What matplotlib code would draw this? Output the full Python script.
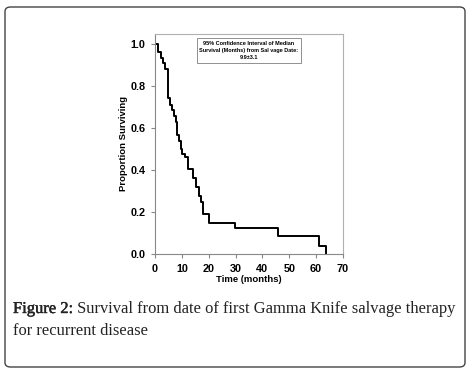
import matplotlib
matplotlib.use("Agg")
import matplotlib.pyplot as plt
import matplotlib.patheffects as pe
from matplotlib.patches import FancyBboxPatch

# Kaplan-Meier step data (months, proportion surviving)
times = [0, 1.3, 2.2, 2.9, 3.7, 4.8, 5.7, 6.3, 7.2, 7.9, 8.3, 9.0, 9.5, 10.0,
         11.1, 12.3, 14.2, 15.2, 16.2, 17.3, 18.0, 20.0, 29.8, 45.8, 61.1, 63.7]
survival = [1.0, 0.963, 0.935, 0.91, 0.88, 0.743, 0.71, 0.685, 0.655, 0.63,
            0.568, 0.54, 0.50, 0.478, 0.462, 0.405, 0.36, 0.32, 0.275, 0.25,
            0.19, 0.148, 0.124, 0.084, 0.04, 0.0]
x_ticks = [0, 10, 20, 30, 40, 50, 60, 70]
y_ticks = [0.0, 0.2, 0.4, 0.6, 0.8, 1.0]
y_tick_labels = ["0.0", "0.2", "0.4", "0.6", "0.8", "1.0"]
box_text = "95% Confidence Interval of Median\nSurvival (Months) from Sal vage Date:\n9.9\u00b13.1"
caption_bold = "Figure 2:"
caption_rest = " Survival from date of first Gamma Knife salvage therapy"
caption_line2 = "for recurrent disease"

W, H = 469, 372
fig = plt.figure(figsize=(W / 100, H / 100), dpi=100)

# outer rounded frame
frame = FancyBboxPatch((5 / W, 5 / H), 460 / W, 360 / H,
                       boxstyle="round,pad=0,rounding_size=0.012",
                       transform=fig.transFigure, fill=False,
                       edgecolor="#444444", linewidth=1.0)
fig.patches.append(frame)

ax = fig.add_axes([155 / W, 1 - 254 / H, 188 / W, 220 / H])
ax.step(times, survival, where="post", color="black", linewidth=1.4)
ax.set_xlim(0, 70)
ax.set_ylim(0, 1.048)
ax.set_xticks(x_ticks)
ax.set_yticks(y_ticks)
ax.set_yticklabels(y_tick_labels)
for s in ax.spines.values():
    s.set_color("#b0b0b0")
    s.set_linewidth(0.8)
ax.spines["bottom"].set_color("#888888")
ax.spines["left"].set_color("#888888")
ax.tick_params(direction="out", length=3, width=0.8, color="#888888", pad=4)
for lab in ax.get_xticklabels() + ax.get_yticklabels():
    lab.set_fontfamily("Liberation Sans")
    lab.set_fontweight("bold")
    lab.set_fontsize(7.8)
ax.set_xlabel("Time (months)", fontfamily="Liberation Sans", fontweight="bold",
              fontsize=6.8, labelpad=1)
ax.set_ylabel("Proportion Surviving", fontfamily="Liberation Sans", fontweight="bold",
              fontsize=6.8, labelpad=1.5)

ax.text(0.50, 0.925, box_text, transform=ax.transAxes, ha="center", va="center",
        fontfamily="Liberation Sans", fontweight="bold", fontsize=4.0,
        linespacing=1.5,
        bbox=dict(boxstyle="square,pad=0.5", facecolor="white",
                  edgecolor="#909090", linewidth=0.7))

t1 = fig.text(13 / W, 1 - 313 / H, caption_bold, fontfamily="Liberation Serif",
              fontsize=11.9, color="#222222", va="baseline",
              path_effects=[pe.withStroke(linewidth=0.3, foreground="#222222")])
fig.canvas.draw()
fig.add_artist(plt.Annotation(caption_rest, xy=(1, 0), xycoords=t1,
                              va="bottom", ha="left",
                              fontfamily="Liberation Serif", fontsize=11.9,
                              color="#222222"))
fig.text(13 / W, 1 - 335 / H, caption_line2, fontfamily="Liberation Serif",
         fontsize=11.9, color="#222222", va="baseline")

fig.savefig("out.png", dpi=100)
